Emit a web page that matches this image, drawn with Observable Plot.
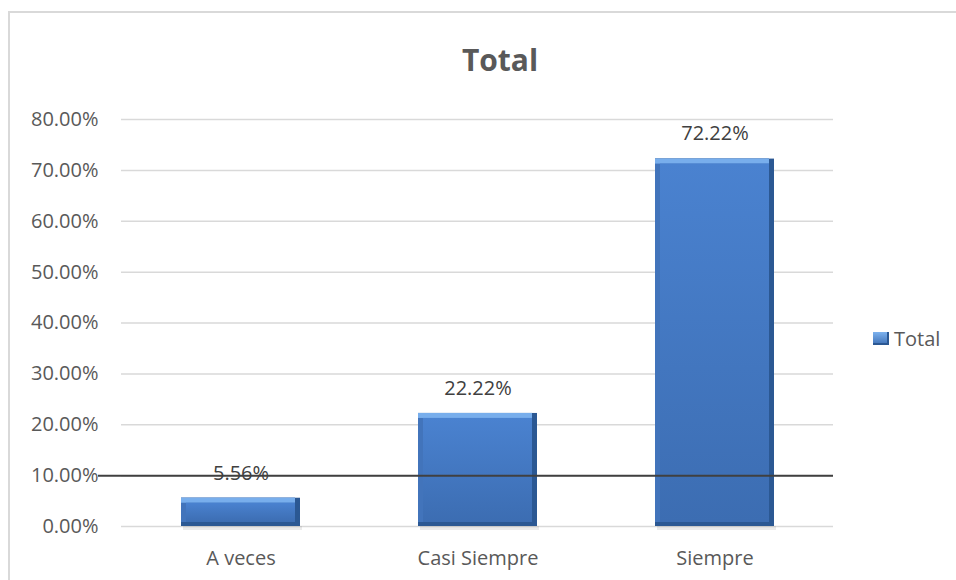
<!DOCTYPE html>
<html>
<head>
<meta charset="utf-8">
<script src="https://cdn.jsdelivr.net/npm/d3@7"></script>
<script src="https://cdn.jsdelivr.net/npm/@observablehq/plot@0.6"></script>
<style>
  html, body { margin: 0; padding: 0; background: #fff; }
  #wrap { position: relative; width: 956px; height: 580px; overflow: hidden; font-family: "Open Sans", sans-serif; }
  #frame { position: absolute; left: 8px; top: 11px; width: 1000px; height: 1000px; border-left: 2px solid #d9d9d9; border-top: 2px solid #d9d9d9; box-sizing: border-box; }
  #title { position: absolute; left: 0; width: 1000px; top: 40px; text-align: center; font-size: 30px; font-weight: bold; color: #595959; line-height: 40px; }
  #legend { position: absolute; left: 873px; top: 325px; height: 26px; display: flex; align-items: center; font-size: 20px; color: #595959; }
  #legend .sw { width: 16px; height: 13px; margin-right: 5px; background: linear-gradient(#7db2ee, #3d6fb5); box-shadow: inset -2px -2px 0 #2b5893; }
  #chart { position: absolute; left: 0; top: 0; }
</style>
</head>
<body>
<div id="wrap">
  <div id="frame"></div>
  <div id="chart"></div>
  <div id="title">Total</div>
  <div id="legend"><span class="sw"></span><span>Total</span></div>
</div>
<script>
const categories = ["A veces", "Casi Siempre", "Siempre"];
const values = [0.0556, 0.2222, 0.7222];
const yTicks = [0, 0.1, 0.2, 0.3, 0.4, 0.5, 0.6, 0.7, 0.8];
const referenceLine = [0.10];

const data = categories.map((c, i) => ({cat: c, v: values[i]}));
const pct = d3.format(".2%");

const chart = Plot.plot({
  width: 956,
  height: 580,
  marginLeft: 121,
  marginRight: 123,
  marginTop: 119,
  marginBottom: 54,
  style: { fontFamily: "Open Sans, sans-serif", fontSize: "20px", background: "transparent", overflow: "visible" },
  x: { domain: categories, paddingInner: 0.5, paddingOuter: 0.25, label: null },
  y: { domain: [0, 0.8], label: null },
  marks: [
    Plot.gridY(yTicks, { stroke: "#d9d9d9", strokeOpacity: 1, strokeWidth: 1.5 }),
    Plot.axisY(yTicks, { tickSize: 0, tickPadding: 23, tickFormat: pct, fill: "#595959", fontSize: 20, label: null }),
    Plot.axisX({ tickSize: 0, tickPadding: 24, fill: "#595959", fontSize: 20, label: null }),
    // subtle shadow
    Plot.barY(data, { x: "cat", y1: 0, y2: 0, insetBottom: -4, insetLeft: 2, insetRight: -2, fill: "#000", fillOpacity: 0.08 }),
    // bevel layers
    Plot.barY(data, { x: "cat", y: "v", fill: "#2b5893" }),
    Plot.barY(data, { x: "cat", y: "v", insetRight: 5, insetBottom: 4, fill: "#4274bb" }),
    Plot.barY(data, { x: "cat", y1: "v", y2: "v", insetBottom: -5, insetRight: 5, fill: "#78aeec" }),
    Plot.barY(data, { x: "cat", y: "v", insetTop: 5, insetLeft: 5, insetRight: 5, insetBottom: 4, fill: "url(#faceGrad)" }),
    Plot.text(data, { x: "cat", y: "v", text: d => pct(d.v), dy: -25, fill: "#404040", fontSize: 20 }),
    Plot.ruleY(referenceLine, { stroke: "#404040", strokeWidth: 2, insetLeft: -23 })
  ]
});

const defs = d3.select(chart).insert("defs", ":first-child");
const g = defs.append("linearGradient").attr("id", "faceGrad").attr("x1", 0).attr("y1", 0).attr("x2", 0).attr("y2", 1);
g.append("stop").attr("offset", "0%").attr("stop-color", "#4a82d0");
g.append("stop").attr("offset", "100%").attr("stop-color", "#3c6db2");

document.getElementById("chart").appendChild(chart);
</script>
</body>
</html>
